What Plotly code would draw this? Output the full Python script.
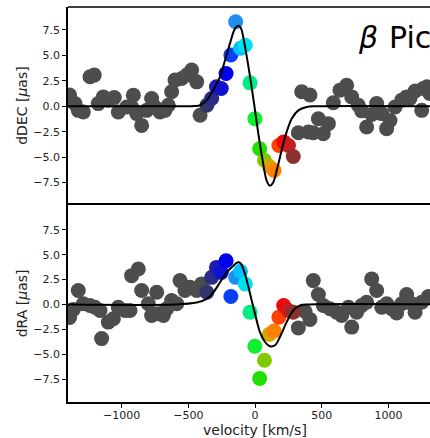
import plotly.graph_objects as go
from plotly.subplots import make_subplots

# Spectral channels across the line (km/s) and the photocentre offsets (μas)
line_vel = [-361, -325, -289, -253, -217, -181, -145, -109, -73, -37,
            -1, 35, 71, 107, 143, 179, 215, 251, 287]
dec_line = [0.1, 0.76, 1.91, 1.75, 3.22, 5.03, 8.3, 5.7, 6.0, 2.3,
            -1.22, -4.18, -5.3, -5.9, -6.3, -3.85, -3.5, -3.85, -4.93]
ra_line = [1.23, 2.73, 3.73, 3.23, 4.4, 0.8, 2.73, 3.33, 2.07, -0.77,
           -4.2, -7.43, -5.6, -3.0, -2.67, -1.27, -0.1, -0.6, -0.77]

# Continuum channels, dDEC
dec_cont_vel = [-1390, -1350, -1325, -1287, -1237, -1205, -1175, -1137, -1100, -1055,
                -1025, -962, -925, -912, -887, -850, -812, -775, -750, -712,
                -675, -650, -625, -600, -550, -512, -475, -437, -412,
                325, 350, 400, 412, 437, 475, 512, 550, 587, 637,
                687, 725, 775, 800, 837, 875, 912, 950, 987, 1012,
                1050, 1100, 1137, 1162, 1200, 1250, 1262, 1290, 1310]
dec_cont = [1.1, 0.26, -0.4, -0.56, 2.9, 3.06, 0.26, 0.92, 0.6, 0.85,
            -0.56, -0.07, -0.07, 1.09, -0.72, -1.88, -0.4, 0.76, -0.07, -0.56,
            -0.4, 0.1, 1.42, 2.57, 2.73, 3.06, 3.55, 2.4, -0.89,
            -2.6, 1.42, -2.53, 1.1, -2.6, -1.22, -2.7, -1.71, 0.35, 1.58,
            2.07, 0.92, 0.1, -0.45, -2.04, -0.8, 0.26, -0.72, -2.2, -1.4,
            -0.07, 0.6, 0.92, 0.76, 1.5, -0.4, 1.75, 1.91, 1.25]

# Continuum channels, dRA
ra_cont_vel = [-1390, -1362, -1325, -1287, -1237, -1200, -1162, -1150, -1100, -1062,
               -1025, -975, -937, -925, -875, -850, -800, -775, -737, -725,
               -687, -662, -625, -587, -562, -525, -487, -437, -400,
               325, 375, 412, 437, 475, 512, 562, 612, 650, 700,
               725, 762, 800, 837, 875, 912, 950, 987, 1025, 1062,
               1100, 1137, 1175, 1200, 1250, 1300]
ra_cont = [-1.3, -0.5, 1.4, 0.07, -0.1, -0.27, -0.6, -3.43, -1.77, -1.43,
           -0.27, -0.6, -0.6, 2.9, 3.57, 1.4, 0.07, -1.1, 1.23, -0.93,
           -1.1, -0.43, 0.4, 0.07, 2.4, 1.4, 1.73, 1.4, 2.07,
           -2.35, -0.7, -1.5, 2.4, 1.0, -0.1, -0.43, -0.77, -1.1, -0.27,
           -2.27, -0.77, -0.1, 0.23, 2.57, 1.4, -0.27, 0.07, -0.43, -0.85,
           0.07, 1.0, 0.07, -0.77, 0.23, 0.8]

# Best-fit model curves
dec_model_vel = [-1450, -600, -450, -412, -362, -312, -262, -225, -187, -155,
                 -125, -105, -75, -37, -7, 25, 57, 87, 112, 137,
                 175, 225, 275, 325, 387, 450, 1450]
dec_model = [0, 0, 0.02, 0.1, 0.6, 1.6, 2.9, 4.5, 6.2, 7.5,
             7.9, 7.67, 5.86, 2.9, 0.26, -2.7, -5.3, -7.3, -7.8, -7.47,
             -5.66, -3.03, -1.22, -0.4, -0.07, 0, 0]
ra_model_vel = [-1450, -600, -437, -362, -312, -262, -212, -162, -132, -107,
                -75, -37, 0, 37, 75, 112, 150, 187, 237, 287,
                337, 400, 1450]
ra_model = [0, 0, 0.2, 0.57, 1.23, 2.23, 3.23, 3.9, 4.23, 4.13,
            3.07, 1.07, -0.93, -2.77, -3.77, -4.2, -4.1, -3.27, -1.77, -0.6,
            -0.1, 0, 0]

x_ticks = [-1000, -500, 0, 500, 1000]
x_ticktext = ["\u22121000", "\u2212500", "0", "500", "1000"]
y_ticks = [-7.5, -5.0, -2.5, 0.0, 2.5, 5.0, 7.5]
y_ticktext = ["\u22127.5", "\u22125.0", "\u22122.5", "0.0", "2.5", "5.0", "7.5"]

# jet-like palette running from the blue to the red wing of the line
line_colors = ["#30356a", "#282c8a", "#1c1cb0", "#1010d0", "#0000ee", "#0a40f5",
               "#1e8ff0", "#00c0ff", "#00e0f0", "#00ee88", "#10ee30", "#20e000",
               "#80c800", "#d0a800", "#ff8000", "#ff4000", "#ee0a0a", "#c81e1e",
               "#8c3030"]
colorscale = [[i / (len(line_colors) - 1), c] for i, c in enumerate(line_colors)]

GREY = "#4d4d4d"
FONT = "DejaVu Sans"

fig = make_subplots(rows=2, cols=1, shared_xaxes=True, vertical_spacing=0)

panels = [
    (1, dec_cont_vel, dec_cont, dec_line, dec_model_vel, dec_model),
    (2, ra_cont_vel, ra_cont, ra_line, ra_model_vel, ra_model),
]
for row, cv, cy, ly, mv, my in panels:
    fig.add_hline(y=0, line=dict(color="#888888", width=1, dash="dot"),
                  layer="below", row=row, col=1)
    fig.add_trace(go.Scatter(x=cv, y=cy, mode="markers",
                             marker=dict(size=15, color=GREY, line=dict(width=0)),
                             showlegend=False, hoverinfo="skip"), row=row, col=1)
    fig.add_trace(go.Scatter(x=line_vel, y=ly, mode="markers",
                             marker=dict(size=15, color=line_vel, colorscale=colorscale,
                                         cmin=min(line_vel), cmax=max(line_vel),
                                         line=dict(width=0)),
                             showlegend=False, hoverinfo="skip"), row=row, col=1)
    fig.add_trace(go.Scatter(x=mv, y=my, mode="lines",
                             line=dict(color="black", width=2, shape="spline", smoothing=0.8),
                             showlegend=False, hoverinfo="skip"), row=row, col=1)

axis_common = dict(showgrid=False, zeroline=False, linecolor="black", linewidth=1.5)
fig.update_xaxes(range=[-1402, 1312], **axis_common)
# upper panel: its bottom edge is shared with the lower panel's top edge
fig.update_xaxes(showline=False, showticklabels=False, ticks="", row=1, col=1)
fig.update_xaxes(showline=True, mirror=True, ticks="outside", ticklen=4, tickwidth=1,
                 tickcolor="black", tickvals=x_ticks, ticktext=x_ticktext,
                 ticklabelstandoff=-2,
                 tickfont=dict(family=FONT, size=11, color="#222"), row=2, col=1)
fig.update_yaxes(showline=True, mirror=False, ticks="outside", ticklen=4, tickwidth=1,
                 tickcolor="black", tickvals=y_ticks, ticktext=y_ticktext,
                 tickfont=dict(family=FONT, size=11, color="#222"), **axis_common)
fig.update_yaxes(range=[-9.65, 9.75], row=1, col=1)
fig.update_yaxes(range=[-9.8, 10.05], row=2, col=1)

# top edge of the upper panel
fig.add_shape(type="line", xref="paper", yref="paper", x0=0, x1=1, y0=1, y1=1,
              line=dict(color="black", width=1.5))

fig.add_annotation(text="dDEC [<i>μ</i>as]", xref="paper", yref="paper", x=-0.127, y=0.75,
                   textangle=-90, showarrow=False, xanchor="center", yanchor="middle",
                   font=dict(family=FONT, size=14, color="#222"))
fig.add_annotation(text="dRA [<i>μ</i>as]", xref="paper", yref="paper", x=-0.127, y=0.25,
                   textangle=-90, showarrow=False, xanchor="center", yanchor="middle",
                   font=dict(family=FONT, size=14, color="#222"))
fig.add_annotation(text="velocity [km/s]", xref="x2", yref="paper", x=0, y=-0.0705,
                   showarrow=False, xanchor="center", yanchor="middle", borderpad=0,
                   font=dict(family=FONT, size=14, color="#222"))
fig.add_annotation(text="<i>β</i>", xref="paper", yref="paper", x=0.795, y=0.922,
                   showarrow=False, xanchor="left", yanchor="middle",
                   font=dict(family=FONT, size=30, color="black"))
fig.add_annotation(text="Pic", xref="paper", yref="paper", x=0.88, y=0.922,
                   showarrow=False, xanchor="left", yanchor="middle",
                   font=dict(family=FONT, size=30, color="black"))

fig.update_layout(width=430, height=438, margin=dict(l=68, r=0, t=7, b=36),
                  plot_bgcolor="white", paper_bgcolor="white")

fig.write_html("out.html")
